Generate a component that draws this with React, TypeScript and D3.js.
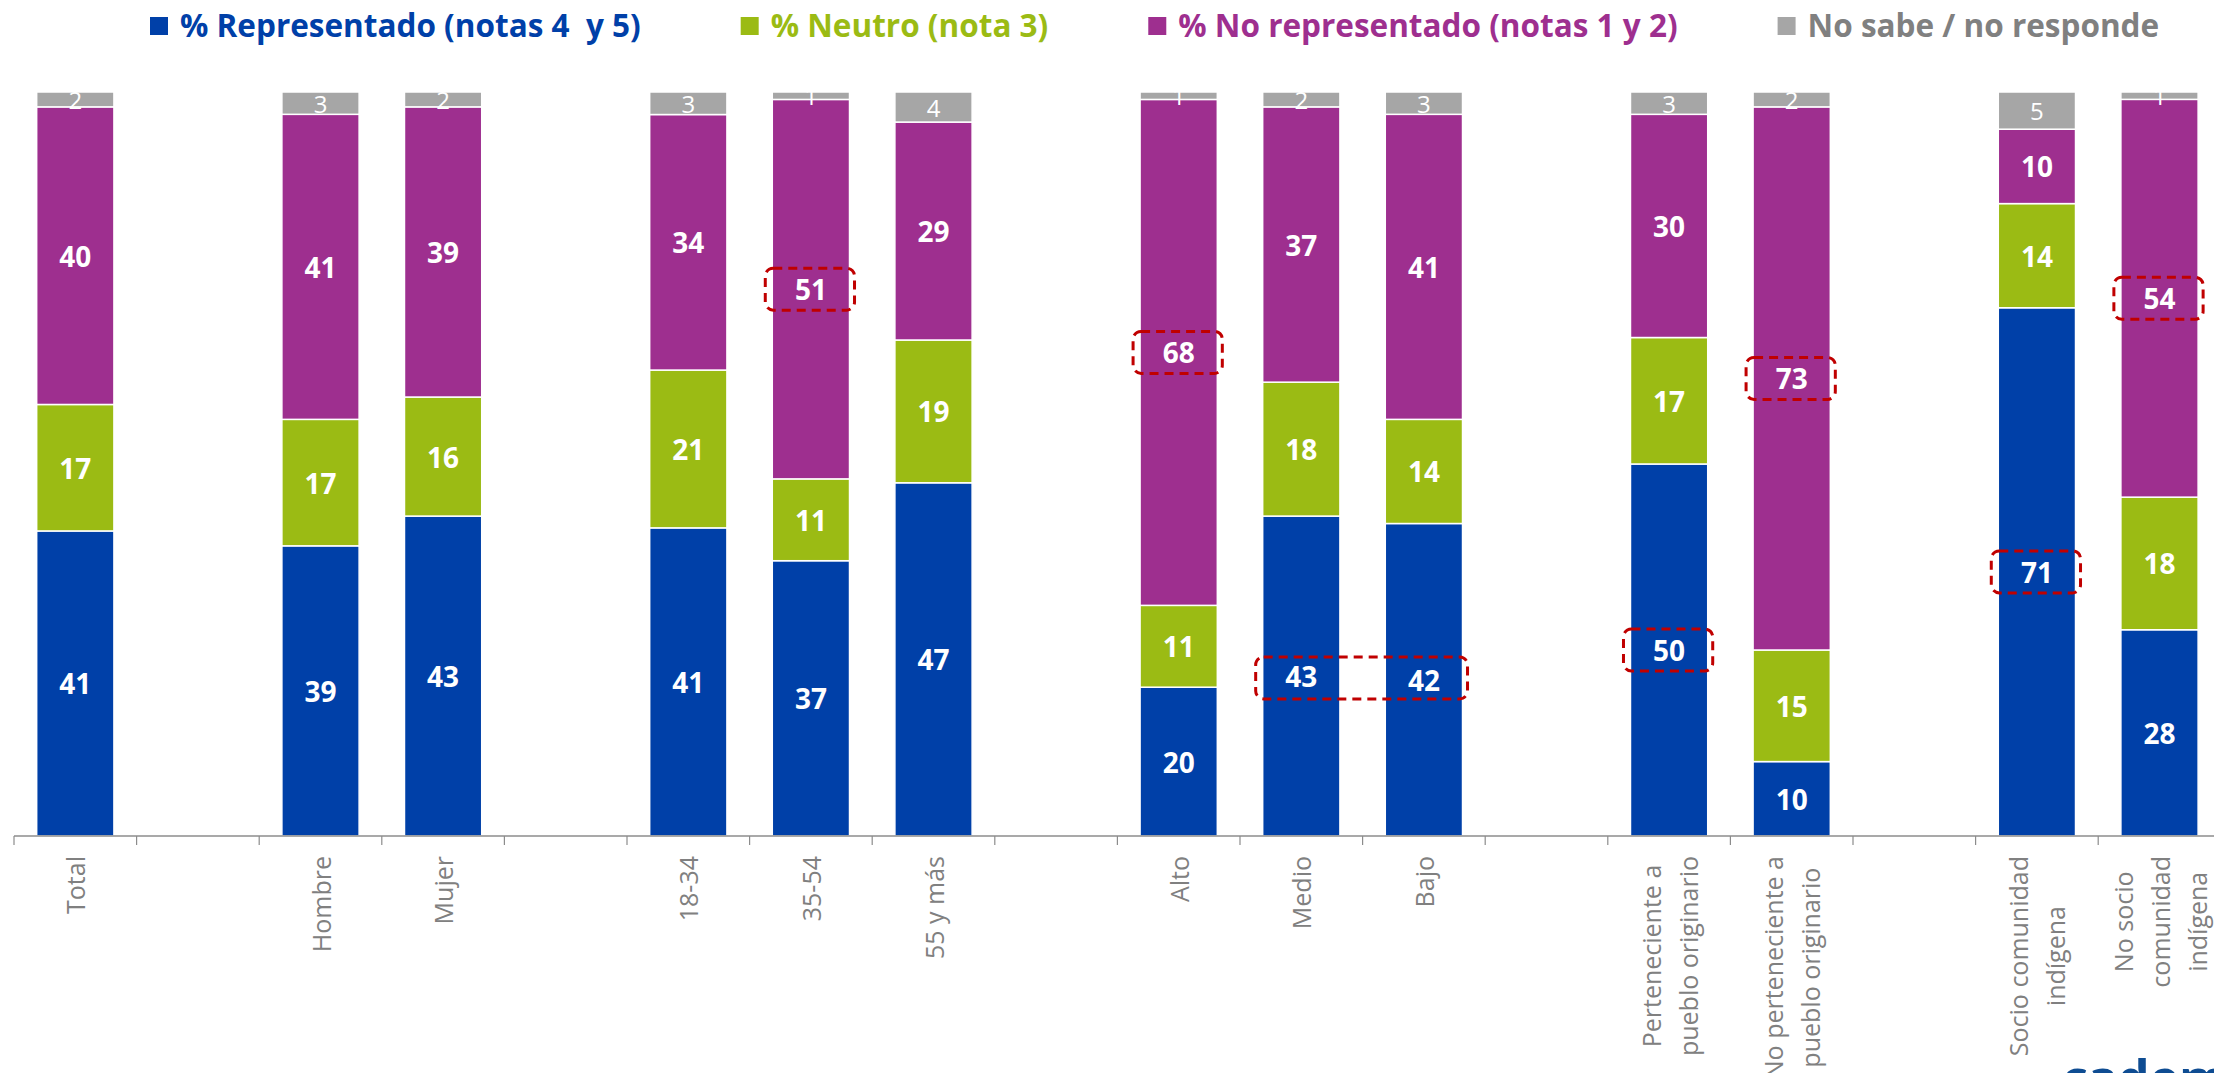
import React, { useRef, useEffect } from 'react';
import * as d3 from 'd3';

// categorias (los "" son separadores vacios entre grupos)
const categorias = [
  'Total', '', 'Hombre', 'Mujer', '', '18-34', '35-54', '55 y más', '',
  'Alto', 'Medio', 'Bajo', '',
  'Perteneciente a\npueblo originario', 'No perteneciente a\npueblo originario', '',
  'Socio comunidad\nindígena', 'No socio\ncomunidad\nindígena'
];

const representado = [41, null, 39, 43, null, 41, 37, 47, null, 20, 43, 42, null, 50, 10, null, 71, 28];
const neutro = [17, null, 17, 16, null, 21, 11, 19, null, 11, 18, 14, null, 17, 15, null, 14, 18];
const noRepresentado = [40, null, 41, 39, null, 34, 51, 29, null, 68, 37, 41, null, 30, 73, null, 10, 54];
const noSabe = [2, null, 3, 2, null, 3, 1, 4, null, 1, 2, 3, null, 3, 2, null, 5, 1];

const claves = ['rep', 'neu', 'norep', 'ns'];
const nombres = ['% Representado (notas 4  y 5)', '% Neutro (nota 3)', '% No representado (notas 1 y 2)', 'No sabe / no responde'];
const colores = ['#0040A8', '#9BBB14', '#9E2F8F', '#A6A6A6'];
const coloresLeyenda = ['#0040A8', '#9BBB14', '#9E2F8F', '#808080'];

// recuadros rojos punteados: categorias + serie
const destacados = [
  { cats: ['35-54'], key: 'norep' },
  { cats: ['Alto'], key: 'norep' },
  { cats: ['Medio', 'Bajo'], key: 'rep' },
  { cats: ['Perteneciente a\npueblo originario'], key: 'rep' },
  { cats: ['No perteneciente a\npueblo originario'], key: 'norep' },
  { cats: ['Socio comunidad\nindígena'], key: 'rep' },
  { cats: ['No socio\ncomunidad\nindígena'], key: 'norep' }
];

const W = 2214;
const H = 1073;

const App = () => {
  const chart = useRef<SVGSVGElement | null>(null);

  useEffect(() => {
    createChart(chart);
  }, []);

  const createChart = (ref: any) => {
    const svg = d3.select(ref.current);
    svg.selectAll('*').remove();

    const font = '"Open Sans", "DejaVu Sans", sans-serif';
    const baseY = 836;
    const topY = 92;

    const rows = categorias.map((c, i) => ({
      i: String(i),
      cat: c,
      rep: representado[i] ?? 0,
      neu: neutro[i] ?? 0,
      norep: noRepresentado[i] ?? 0,
      ns: noSabe[i] ?? 0,
      raw: { rep: representado[i], neu: neutro[i], norep: noRepresentado[i], ns: noSabe[i] } as any
    }));

    const x = d3.scaleBand().domain(rows.map(r => r.i)).range([14, 14 + 122.6 * 18]).paddingInner(0.37).paddingOuter(0.185);
    const y = d3.scaleLinear().domain([0, 1]).range([baseY, topY]);

    const stack = d3.stack<any>().keys(claves).offset(d3.stackOffsetExpand);
    const stacked = stack(rows);

    // barras
    stacked.forEach((s, si) => {
      svg.append('g')
        .selectAll('rect')
        .data(s.filter(d => d.data.cat !== ''))
        .enter()
        .append('rect')
        .attr('x', d => x(d.data.i) as number)
        .attr('width', x.bandwidth())
        .attr('y', d => y(d[1]))
        .attr('height', d => y(d[0]) - y(d[1]))
        .attr('fill', colores[si])
        .attr('stroke', '#ffffff')
        .attr('stroke-width', 1.5);
    });

    // eje x
    const ax = svg.append('g');
    ax.append('line')
      .attr('x1', x.range()[0]).attr('x2', x.range()[1])
      .attr('y1', baseY).attr('y2', baseY)
      .attr('stroke', '#8C8C8C').attr('stroke-width', 1.5);
    const step = x.step();
    d3.range(categorias.length + 1).forEach(k => {
      const tx = x.range()[0] + k * step;
      ax.append('line')
        .attr('x1', tx).attr('x2', tx)
        .attr('y1', baseY).attr('y2', baseY + 9)
        .attr('stroke', '#8C8C8C').attr('stroke-width', 1.2);
    });

    // etiquetas de categoria (rotadas)
    rows.filter(r => r.cat !== '').forEach(r => {
      const lines = r.cat.split('\n');
      const cx = (x(r.i) as number) + x.bandwidth() / 2;
      const g = ax.append('g');
      const texts = lines.map((ln, li) => g.append('text')
        .attr('text-anchor', 'middle')
        .attr('dominant-baseline', 'central')
        .attr('y', (li - (lines.length - 1) / 2) * 37)
        .attr('font-family', font)
        .attr('font-size', 25)
        .attr('fill', '#808080')
        .text(ln));
      const maxLen = d3.max(texts, t => (t.node() as SVGTextElement).getComputedTextLength()) || 0;
      g.attr('transform', `translate(${cx},${baseY + 20 + maxLen / 2}) rotate(-90)`);
    });

    // etiquetas de datos
    stacked.forEach((s, si) => {
      const isNs = claves[si] === 'ns';
      svg.append('g')
        .selectAll('text')
        .data(s.filter(d => d.data.cat !== ''))
        .enter()
        .append('text')
        .attr('x', d => (x(d.data.i) as number) + x.bandwidth() / 2)
        .attr('y', d => (y(d[0]) + y(d[1])) / 2)
        .attr('text-anchor', 'middle')
        .attr('dominant-baseline', 'central')
        .attr('font-family', font)
        .attr('font-weight', isNs ? 400 : 700)
        .attr('font-size', isNs ? 24 : 28)
        .attr('fill', '#ffffff')
        .text(d => d.data.raw[claves[si]]);
    });

    // recuadros destacados
    destacados.forEach(h => {
      const si = claves.indexOf(h.key);
      const segs = h.cats.map(c => stacked[si].find(d => d.data.cat === c) as any);
      const x0 = d3.min(segs, d => x(d.data.i) as number) as number;
      const x1 = (d3.max(segs, d => x(d.data.i) as number) as number) + x.bandwidth();
      const cy = d3.mean(segs, d => (y(d[0]) + y(d[1])) / 2) as number;
      svg.append('rect')
        .attr('x', x0 - 7)
        .attr('width', x1 - x0 + 12)
        .attr('y', cy - 21)
        .attr('height', 42)
        .attr('rx', 8)
        .attr('fill', 'none')
        .attr('stroke', '#C00000')
        .attr('stroke-width', 3)
        .attr('stroke-dasharray', '9 6');
    });

    // leyenda
    const leg = svg.append('g');
    let lx = 150;
    nombres.forEach((n, k) => {
      leg.append('rect')
        .attr('x', lx).attr('y', 17)
        .attr('width', 18).attr('height', 18)
        .attr('fill', colores[k]);
      const t = leg.append('text')
        .attr('x', lx + 30).attr('y', 37)
        .attr('font-family', font)
        .attr('font-weight', 700)
        .attr('font-size', 31.5)
        .attr('fill', coloresLeyenda[k])
        .style('white-space', 'pre')
        .text(n);
      const w = (t.node() as SVGTextElement).getComputedTextLength();
      lx += 30 + w + 100;
    });

    // logo recortado abajo a la derecha
    svg.append('text')
      .attr('x', 2062).attr('y', 1096)
      .attr('font-family', font)
      .attr('font-weight', 700)
      .attr('font-size', 50)
      .attr('fill', '#0E4C92')
      .text('cadem');
  };

  return (
    <div style={{ position: 'fixed', left: 0, top: 0, width: W, height: H, overflow: 'hidden', background: '#ffffff' }}>
      <svg ref={chart} width={W} height={H} style={{ display: 'block' }}></svg>
    </div>
  );
};

export default App;
